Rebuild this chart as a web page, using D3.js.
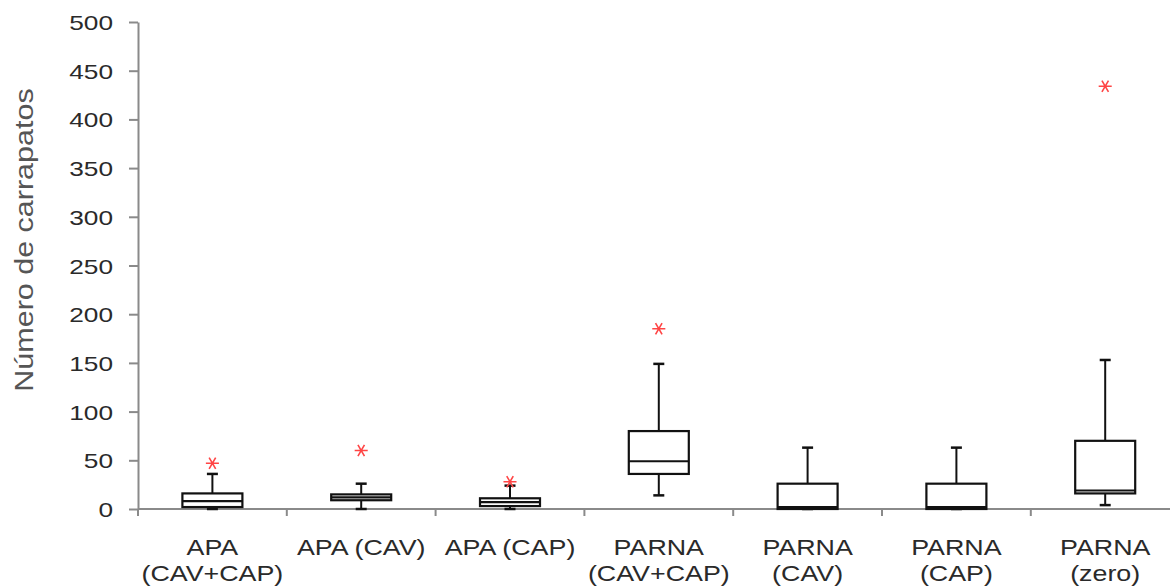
<!DOCTYPE html>
<html>
<head>
<meta charset="utf-8">
<script src="https://cdn.jsdelivr.net/npm/d3@7"></script>
<style>
  body { margin: 0; background: #fff; }
  svg { display: block; font-family: "Liberation Sans", Arial, sans-serif; }
</style>
</head>
<body>
<div id="chart"></div>
<script>
// data
const categories = ["APA (CAV+CAP)", "APA (CAV)", "APA (CAP)", "PARNA (CAV+CAP)", "PARNA (CAV)", "PARNA (CAP)", "PARNA (zero)"];
const labelLines = [["APA", "(CAV+CAP)"], ["APA (CAV)"], ["APA (CAP)"], ["PARNA", "(CAV+CAP)"], ["PARNA", "(CAV)"], ["PARNA", "(CAP)"], ["PARNA", "(zero)"]];
const whiskerLow  = [0, 0, 0, 14, 0, 0, 4];
const q1          = [2, 9, 3, 36, 0, 0, 16];
const medians     = [8, 12, 7, 49, 2, 2, 19];
const q3          = [16, 15, 11, 80, 26, 26, 70];
const whiskerHigh = [36, 26, 24, 149, 63, 63, 153];
const outliers    = [[47], [60], [28], [185], [], [], [434]];
const yTicks = [0, 50, 100, 150, 200, 250, 300, 350, 400, 450, 500];

const width = 1170, height = 586;
const plotLeft = 138, plotTop = 22, plotBottom = 509;
const band = 148.8;

const svg = d3.select("#chart").append("svg")
    .attr("width", width)
    .attr("height", height);

const x = d3.scaleBand()
    .domain(categories)
    .range([plotLeft, plotLeft + band * categories.length])
    .padding(0);

const y = d3.scaleLinear()
    .domain([0, 500])
    .range([plotBottom, plotTop]);

const axisColor = "#8a8a8a";

// y axis
const yAxis = svg.append("g")
    .attr("transform", "translate(" + plotLeft + ",0)")
    .call(d3.axisLeft(y).tickValues(yTicks).tickSize(9).tickSizeOuter(0));
yAxis.select(".domain").attr("stroke", axisColor).attr("stroke-width", 2);
yAxis.selectAll(".tick line").attr("stroke", axisColor).attr("stroke-width", 2);
yAxis.selectAll(".tick text")
    .attr("x", null)
    .attr("dy", "0.36em")
    .attr("transform", "translate(-25,0) scale(1.25,1)")
    .attr("text-anchor", "end")
    .attr("font-size", 21)
    .attr("fill", "#2a2a2a");

// x axis line and boundary ticks
svg.append("line")
    .attr("x1", plotLeft).attr("x2", width)
    .attr("y1", plotBottom).attr("y2", plotBottom)
    .attr("stroke", axisColor).attr("stroke-width", 2);

const bounds = categories.map(c => x(c));
svg.append("g").selectAll("line")
    .data(bounds)
    .enter().append("line")
    .attr("x1", d => d).attr("x2", d => d)
    .attr("y1", plotBottom).attr("y2", plotBottom + 7)
    .attr("stroke", axisColor).attr("stroke-width", 2);

// category labels
const labels = svg.append("g").selectAll("g")
    .data(categories)
    .enter().append("g")
    .attr("transform", d => "translate(" + (x(d) + x.bandwidth() / 2) + ",0)");

labels.each(function(d, i) {
    const g = d3.select(this);
    labelLines[i].forEach((t, j) => {
        g.append("text")
            .attr("transform", "translate(0," + (555 + j * 26) + ") scale(1.22,1)")
            .attr("text-anchor", "middle")
            .attr("font-size", 22)
            .attr("fill", "#2a2a2a")
            .text(t);
    });
});

// box plots
const boxW = 60, capW = 11;
const boxes = svg.append("g").selectAll("g")
    .data(categories)
    .enter().append("g")
    .attr("transform", d => "translate(" + (x(d) + x.bandwidth() / 2) + ",0)");

boxes.append("line")
    .attr("y1", (d, i) => y(whiskerHigh[i]))
    .attr("y2", (d, i) => y(q3[i]))
    .attr("stroke", "#111").attr("stroke-width", 2);
boxes.append("line")
    .attr("y1", (d, i) => y(q1[i]))
    .attr("y2", (d, i) => y(whiskerLow[i]))
    .attr("stroke", "#111").attr("stroke-width", 2);
boxes.append("line")
    .attr("x1", -capW / 2).attr("x2", capW / 2)
    .attr("y1", (d, i) => y(whiskerHigh[i]))
    .attr("y2", (d, i) => y(whiskerHigh[i]))
    .attr("stroke", "#111").attr("stroke-width", 2.5);
boxes.append("line")
    .attr("x1", -capW / 2).attr("x2", capW / 2)
    .attr("y1", (d, i) => y(whiskerLow[i]))
    .attr("y2", (d, i) => y(whiskerLow[i]))
    .attr("stroke", "#111").attr("stroke-width", 2.5);

boxes.append("rect")
    .attr("x", -boxW / 2)
    .attr("width", boxW)
    .attr("y", (d, i) => y(q3[i]))
    .attr("height", (d, i) => y(q1[i]) - y(q3[i]))
    .attr("fill", "#fff")
    .attr("stroke", "#111").attr("stroke-width", 2.2);

boxes.append("line")
    .attr("x1", -boxW / 2).attr("x2", boxW / 2)
    .attr("y1", (d, i) => y(medians[i]))
    .attr("y2", (d, i) => y(medians[i]))
    .attr("stroke", "#111").attr("stroke-width", 2.2);

// outliers (red asterisks)
const star = d3.symbol().type(d3.symbolAsterisk).size(120);
boxes.each(function(d, i) {
    d3.select(this).selectAll("path.out")
        .data(outliers[i])
        .enter().append("path")
        .attr("class", "out")
        .attr("d", star)
        .attr("transform", v => "translate(0," + y(v) + ") rotate(90)")
        .attr("fill", "none")
        .attr("stroke", "#ff4545")
        .attr("stroke-width", 1.6);
});

// y axis title
svg.append("text")
    .attr("transform", "translate(33,240) rotate(-90) scale(1.22,1)")
    .attr("text-anchor", "middle")
    .attr("font-size", 25)
    .attr("fill", "#555")
    .text("Número de carrapatos");
</script>
</body>
</html>
